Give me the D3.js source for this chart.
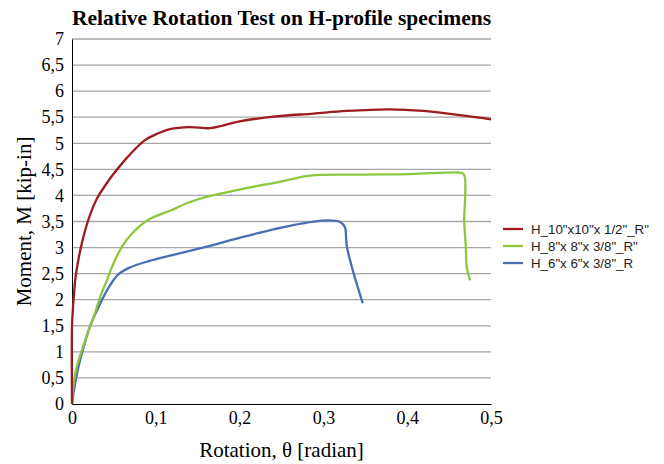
<!DOCTYPE html>
<html>
<head>
<meta charset="utf-8">
<script src="https://cdn.jsdelivr.net/npm/d3@7"></script>
<style>
  body { margin: 0; background: #fff; }
  .axis path { stroke: #000; }
  .axis text { font-family: "Liberation Serif", "Times New Roman", serif; font-size: 18px; fill: #000; }
  .grid line { stroke: #a6a6a6; stroke-width: 1.3px; }
  .legend text { font-family: "Liberation Sans", Arial, sans-serif; font-size: 13.3px; fill: #222; }
</style>
</head>
<body>
<script>
// data (rotation in rad, moment in kip-in)
var seriesNames = ['H_10"x10"x 1/2"_R"', 'H_8"x 8"x 3/8"_R"', 'H_6"x 6"x 3/8"_R'];
var seriesColors = ['#9e1b1f', '#8dc63f', '#4a6db4'];

var thetaH10 = [0, 0, 0.001, 0.004, 0.008, 0.012, 0.0195, 0.0295, 0.04, 0.049, 0.066, 0.087, 0.1, 0.117, 0.14, 0.165, 0.18, 0.2, 0.24, 0.288, 0.328, 0.379, 0.419, 0.463, 0.5];
var momentH10 = [0, 1.5, 1.8, 2.4, 2.8, 3.1, 3.53, 3.93, 4.2, 4.4, 4.73, 5.06, 5.17, 5.27, 5.31, 5.29, 5.34, 5.42, 5.51, 5.57, 5.62, 5.65, 5.62, 5.54, 5.46];

var thetaH8 = [0, 0.0039, 0.0159, 0.0259, 0.0338, 0.0418, 0.0477, 0.0597, 0.0716, 0.0907, 0.119, 0.137, 0.165, 0.208, 0.248, 0.284, 0.344, 0.403, 0.461, 0.467, 0.469, 0.469, 0.468, 0.470, 0.471, 0.475];
var momentH8 = [0, 0.59, 1.23, 1.67, 2.06, 2.38, 2.63, 3.02, 3.27, 3.53, 3.72, 3.85, 3.99, 4.14, 4.26, 4.38, 4.40, 4.41, 4.44, 4.42, 4.34, 3.91, 3.53, 3.02, 2.63, 2.37];

var thetaH6 = [0, 0.006, 0.014, 0.022, 0.032, 0.044, 0.055, 0.068, 0.0915, 0.121, 0.161, 0.208, 0.264, 0.304, 0.320, 0.326, 0.327, 0.328, 0.336, 0.347];
var momentH6 = [0, 0.59, 1.10, 1.51, 1.87, 2.24, 2.48, 2.61, 2.74, 2.86, 3.02, 3.22, 3.43, 3.52, 3.49, 3.38, 3.2, 3.02, 2.51, 1.93];

var xTicks = [0, 0.1, 0.2, 0.3, 0.4, 0.5];
var yTicks = [0, 0.5, 1, 1.5, 2, 2.5, 3, 3.5, 4, 4.5, 5, 5.5, 6, 6.5, 7];

var margin = { top: 39, right: 173, bottom: 60, left: 72 };
var width = 664 - margin.left - margin.right;
var height = 464 - margin.top - margin.bottom;

var svg = d3.select('body').append('svg')
  .attr('width', 664)
  .attr('height', 464);

var g = svg.append('g')
  .attr('transform', 'translate(' + margin.left + ',' + margin.top + ')');

var x = d3.scaleLinear().domain([0, 0.5]).range([0, width]);
var y = d3.scaleLinear().domain([0, 7]).range([height, 0]);

var comma = d3.formatLocale({ decimal: ',', thousands: '.', grouping: [3], currency: ['', ''] }).format('~g');

// grid
g.append('g').attr('class', 'grid')
  .selectAll('line')
  .data(yTicks.filter(function (d) { return d > 0; }))
  .enter().append('line')
  .attr('x1', 0).attr('x2', width)
  .attr('y1', function (d) { return y(d); })
  .attr('y2', function (d) { return y(d); });

g.append('g').attr('class', 'axis')
  .attr('transform', 'translate(0,' + height + ')')
  .call(d3.axisBottom(x).tickValues(xTicks).tickSize(0).tickPadding(7).tickFormat(comma));

g.append('g').attr('class', 'axis')
  .call(d3.axisLeft(y).tickValues(yTicks).tickSize(0).tickPadding(8).tickFormat(comma));

// series
var series = [
  { name: seriesNames[0], color: seriesColors[0], theta: thetaH10, m: momentH10 },
  { name: seriesNames[1], color: seriesColors[1], theta: thetaH8, m: momentH8 },
  { name: seriesNames[2], color: seriesColors[2], theta: thetaH6, m: momentH6 }
];

var line = d3.line()
  .x(function (d) { return x(d[0]); })
  .y(function (d) { return y(d[1]); })
  .curve(d3.curveCatmullRom.alpha(0.5));

series.slice().reverse().forEach(function (s) {
  g.append('path')
    .datum(d3.zip(s.theta, s.m))
    .attr('fill', 'none')
    .attr('stroke', s.color)
    .attr('stroke-width', 2.3)
    .attr('stroke-linejoin', 'round')
    .attr('d', line);
});

// title
svg.append('text')
  .attr('x', margin.left + width / 2)
  .attr('y', 25)
  .attr('text-anchor', 'middle')
  .attr('textLength', width)
  .attr('lengthAdjust', 'spacingAndGlyphs')
  .style('font-family', '"Liberation Serif", "Times New Roman", serif')
  .style('font-weight', 'bold')
  .style('font-size', '22px')
  .text('Relative Rotation Test on H-profile specimens');

// axis titles
svg.append('text')
  .attr('x', margin.left + width / 2)
  .attr('y', 457)
  .attr('text-anchor', 'middle')
  .style('font-family', '"Liberation Serif", "Times New Roman", serif')
  .style('font-size', '21px')
  .text('Rotation, \u03b8 [radian]');

svg.append('text')
  .attr('transform', 'translate(31,' + (margin.top + height / 2) + ') rotate(-90)')
  .attr('text-anchor', 'middle')
  .style('font-family', '"Liberation Serif", "Times New Roman", serif')
  .style('font-size', '21px')
  .text('Moment, M [kip-in]');

// legend
var legend = svg.append('g').attr('class', 'legend')
  .attr('transform', 'translate(503,229)');

var item = legend.selectAll('g')
  .data(series)
  .enter().append('g')
  .attr('transform', function (d, i) { return 'translate(0,' + (i * 17) + ')'; });

item.append('line')
  .attr('x1', 0).attr('x2', 20)
  .attr('stroke', function (d) { return d.color; })
  .attr('stroke-width', 2.3);

item.append('text')
  .attr('x', 28)
  .attr('dy', '0.35em')
  .text(function (d) { return d.name; });
</script>
</body>
</html>
